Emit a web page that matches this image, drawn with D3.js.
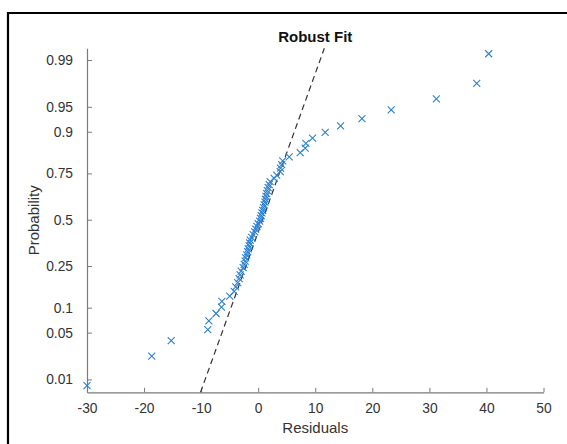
<!DOCTYPE html>
<html>
<head>
<meta charset="utf-8">
<script src="https://cdnjs.cloudflare.com/ajax/libs/d3/7.8.5/d3.min.js"></script>
<style>
  body { margin: 0; background: #fff; }
  svg { display: block; font-family: "Liberation Sans", Arial, sans-serif; }
</style>
</head>
<body>
<div id="chart"></div>
<script>
// sorted residuals
const residuals = [
  -30.0, -18.65, -15.24, -8.83, -8.64, -7.38, -6.43, -6.36, -4.98, -4.21,
  -3.94, -3.59, -3.33, -3.16, -2.98, -2.63, -2.45, -2.28, -2.19, -2.02,
  -1.84, -1.75, -1.58, -1.49, -1.40, -1.14, -0.88, -0.61, -0.44, -0.23,
  0.0, 0.26, 0.40, 0.53, 0.65, 0.79, 0.93, 1.05, 1.19, 1.28,
  1.37, 1.49, 1.61, 1.75, 1.93, 2.10, 2.80, 3.24, 3.86, 3.91,
  4.12, 4.29, 5.43, 7.36, 8.24, 8.36, 9.52, 11.74, 14.44, 18.18,
  23.31, 31.22, 38.30, 40.39
];
const probTicks = [0.01, 0.05, 0.1, 0.25, 0.5, 0.75, 0.9, 0.95, 0.99];
const xTicks = [-30, -20, -10, 0, 10, 20, 30, 40, 50];
// robust fit line: x = fitMu + fitSigma * z
const fitMu = 0.78;
const fitSigma = 4.33;

const W = 567, H = 444;
const plotLeft = 87, plotRight = 543.5, plotTop = 48.3, plotBottom = 392.3;

// inverse normal cdf (Acklam)
function norminv(p) {
  const a = [-39.6968302866538, 220.946098424521, -275.928510446969, 138.357751867269, -30.6647980661472, 2.50662827745924];
  const b = [-54.4760987982241, 161.585836858041, -155.698979859887, 66.8013118877197, -13.2806815528857];
  const c = [-0.00778489400243029, -0.322396458041136, -2.40075827716184, -2.54973253934373, 4.37466414146497, 2.93816398269878];
  const d = [0.00778469570904146, 0.32246712907004, 2.445134137143, 3.75440866190742];
  const pl = 0.02425;
  let q, r;
  if (p < pl) {
    q = Math.sqrt(-2 * Math.log(p));
    return (((((c[0]*q+c[1])*q+c[2])*q+c[3])*q+c[4])*q+c[5]) / ((((d[0]*q+d[1])*q+d[2])*q+d[3])*q+1);
  } else if (p <= 1 - pl) {
    q = p - 0.5; r = q * q;
    return (((((a[0]*r+a[1])*r+a[2])*r+a[3])*r+a[4])*r+a[5])*q / (((((b[0]*r+b[1])*r+b[2])*r+b[3])*r+b[4])*r+1);
  }
  q = Math.sqrt(-2 * Math.log(1 - p));
  return -(((((c[0]*q+c[1])*q+c[2])*q+c[3])*q+c[4])*q+c[5]) / ((((d[0]*q+d[1])*q+d[2])*q+d[3])*q+1);
}

const n = residuals.length;
const points = residuals.map((v, i) => ({ x: v, z: norminv((i + 0.5) / n) }));

const x = d3.scaleLinear().domain([-30, 50]).range([plotLeft, plotRight]);
const y = d3.scaleLinear().domain([-2.514, 2.497]).range([plotBottom, plotTop]);

const svg = d3.select("#chart").append("svg")
  .attr("width", W).attr("height", H);

// outer frame (cropped at right/bottom)
svg.append("path")
  .attr("d", `M8,${H + 5} L8,13 L${W + 5},13`)
  .attr("fill", "none").attr("stroke", "#000").attr("stroke-width", 2.2);

const axisColor = "#7a7a7a";
const textColor = "#333";

const xAxis = svg.append("g")
  .attr("transform", `translate(0,${plotBottom})`)
  .call(d3.axisBottom(x).tickValues(xTicks).tickFormat(d => String(d))
    .tickSizeInner(-4.5).tickSizeOuter(0).tickPadding(11));

const yAxis = svg.append("g")
  .attr("transform", `translate(${plotLeft},0)`)
  .call(d3.axisLeft(y).tickValues(probTicks.map(norminv))
    .tickFormat((d, i) => probTicks[i]).tickSizeInner(-5).tickSizeOuter(0).tickPadding(14));

[xAxis, yAxis].forEach(g => {
  g.select(".domain").attr("stroke", axisColor).attr("stroke-width", 1.2);
  g.selectAll(".tick line").attr("stroke", axisColor);
  g.selectAll(".tick text").attr("fill", textColor)
    .style("font-size", "13.8px").style("font-family", "Liberation Sans, Arial, sans-serif");
});

// robust fit dashed line
const zr = y.domain();
svg.append("line")
  .attr("x1", x(fitMu + fitSigma * zr[0])).attr("y1", y(zr[0]))
  .attr("x2", x(fitMu + fitSigma * zr[1])).attr("y2", y(zr[1]))
  .attr("stroke", "#333").attr("stroke-width", 1.2)
  .attr("stroke-dasharray", "6,4");

// x markers
const s = 3.5;
svg.append("g").selectAll("path")
  .data(points)
  .enter().append("path")
  .attr("d", d => {
    const cx = x(d.x), cy = y(d.z);
    return `M${cx - s},${cy - s}L${cx + s},${cy + s}M${cx - s},${cy + s}L${cx + s},${cy - s}`;
  })
  .attr("stroke", "#2b80d2").attr("stroke-width", 1.1).attr("fill", "none");

// labels
svg.append("text")
  .attr("x", (plotLeft + plotRight) / 2).attr("y", 41.5)
  .attr("text-anchor", "middle")
  .style("font-size", "15px").style("font-weight", "bold")
  .attr("fill", "#111")
  .text("Robust Fit");

svg.append("text")
  .attr("x", (plotLeft + plotRight) / 2).attr("y", 433)
  .attr("text-anchor", "middle")
  .style("font-size", "15px")
  .attr("fill", textColor)
  .text("Residuals");

svg.append("text")
  .attr("transform", `translate(38.5,${(plotTop + plotBottom) / 2}) rotate(-90)`)
  .attr("text-anchor", "middle")
  .style("font-size", "15px")
  .attr("fill", textColor)
  .text("Probability");
</script>
</body>
</html>
